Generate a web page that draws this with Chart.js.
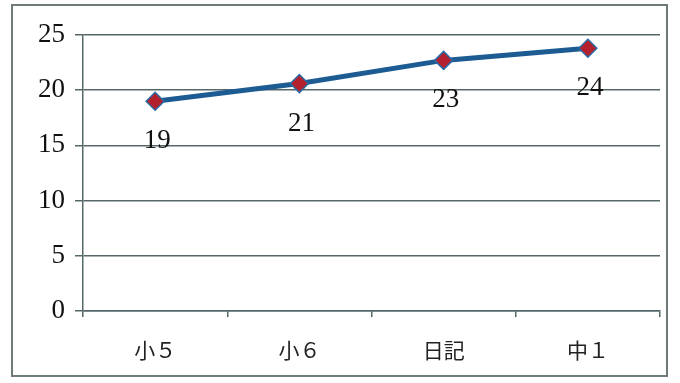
<!DOCTYPE html>
<html>
<head>
<meta charset="utf-8">
<script src="https://cdn.jsdelivr.net/npm/chart.js@4"></script>
<style>
  html, body { margin: 0; padding: 0; background: #fff; }
  #wrap { width: 680px; height: 383px; }
</style>
</head>
<body>
<div id="wrap"><canvas id="myChart" width="680" height="383"></canvas></div>
<script>
const categories = ['小５', '小６', '日記', '中１'];
const scores = [19.0, 20.6, 22.7, 23.8];
const yTicks = [0, 5, 10, 15, 20, 25];

// outer frame around the whole chart
const framePlugin = {
  id: 'frame',
  beforeDraw(chart) {
    const ctx = chart.ctx;
    ctx.save();
    ctx.fillStyle = '#ffffff';
    ctx.fillRect(0, 0, chart.width, chart.height);
    ctx.strokeStyle = '#6f7b7b';
    ctx.lineWidth = 2;
    ctx.strokeRect(12, 5, 655, 371);
    ctx.restore();
  }
};

// value under each point, rounded like the printed labels
const valueLabels = {
  id: 'valueLabels',
  afterDatasetsDraw(chart) {
    const ctx = chart.ctx;
    const meta = chart.getDatasetMeta(0);
    ctx.save();
    ctx.font = '27px "Liberation Serif", "DejaVu Serif", serif';
    ctx.fillStyle = '#111';
    ctx.textAlign = 'center';
    ctx.textBaseline = 'middle';
    meta.data.forEach((pt, i) => {
      ctx.fillText(String(Math.round(scores[i])), pt.x + 2, pt.y + 40);
    });
    ctx.restore();
  }
};

new Chart(document.getElementById('myChart'), {
  type: 'line',
  data: {
    labels: categories,
    datasets: [{
      data: scores,
      borderColor: '#1d5c93',
      borderWidth: 5,
      tension: 0,
      fill: false,
      pointStyle: 'rectRot',
      pointRadius: 9,
      pointHoverRadius: 9,
      pointBackgroundColor: '#b3202e',
      pointBorderColor: '#2a6aa5',
      pointBorderWidth: 1.5
    }]
  },
  options: {
    responsive: false,
    animation: false,
    layout: { padding: { left: 12, right: 20, top: 35, bottom: 22 } },
    plugins: { legend: { display: false }, tooltip: { enabled: false } },
    scales: {
      x: {
        offset: true,
        afterFit(scale) { scale.height = 50; },
        border: { color: '#56676a', width: 1.5 },
        grid: {
          offset: true,
          drawOnChartArea: false,
          drawTicks: true,
          tickLength: 6,
          color: '#56676a',
          lineWidth: 1.5
        },
        ticks: {
          color: '#222',
          padding: 20,
          font: { family: '"Noto Sans CJK JP", sans-serif', size: 21 }
        }
      },
      y: {
        min: 0,
        max: 25,
        afterFit(scale) { scale.width = 71; },
        afterBuildTicks(scale) { scale.ticks = yTicks.map(v => ({ value: v })); },
        border: { color: '#56676a', width: 1.5 },
        grid: {
          color: '#56676a',
          lineWidth: 1.5,
          drawTicks: true,
          tickLength: 8
        },
        ticks: {
          color: '#111',
          padding: 10,
          font: { family: '"Liberation Serif", "DejaVu Serif", serif', size: 27 }
        }
      }
    }
  },
  plugins: [framePlugin, valueLabels]
});
</script>
</body>
</html>
